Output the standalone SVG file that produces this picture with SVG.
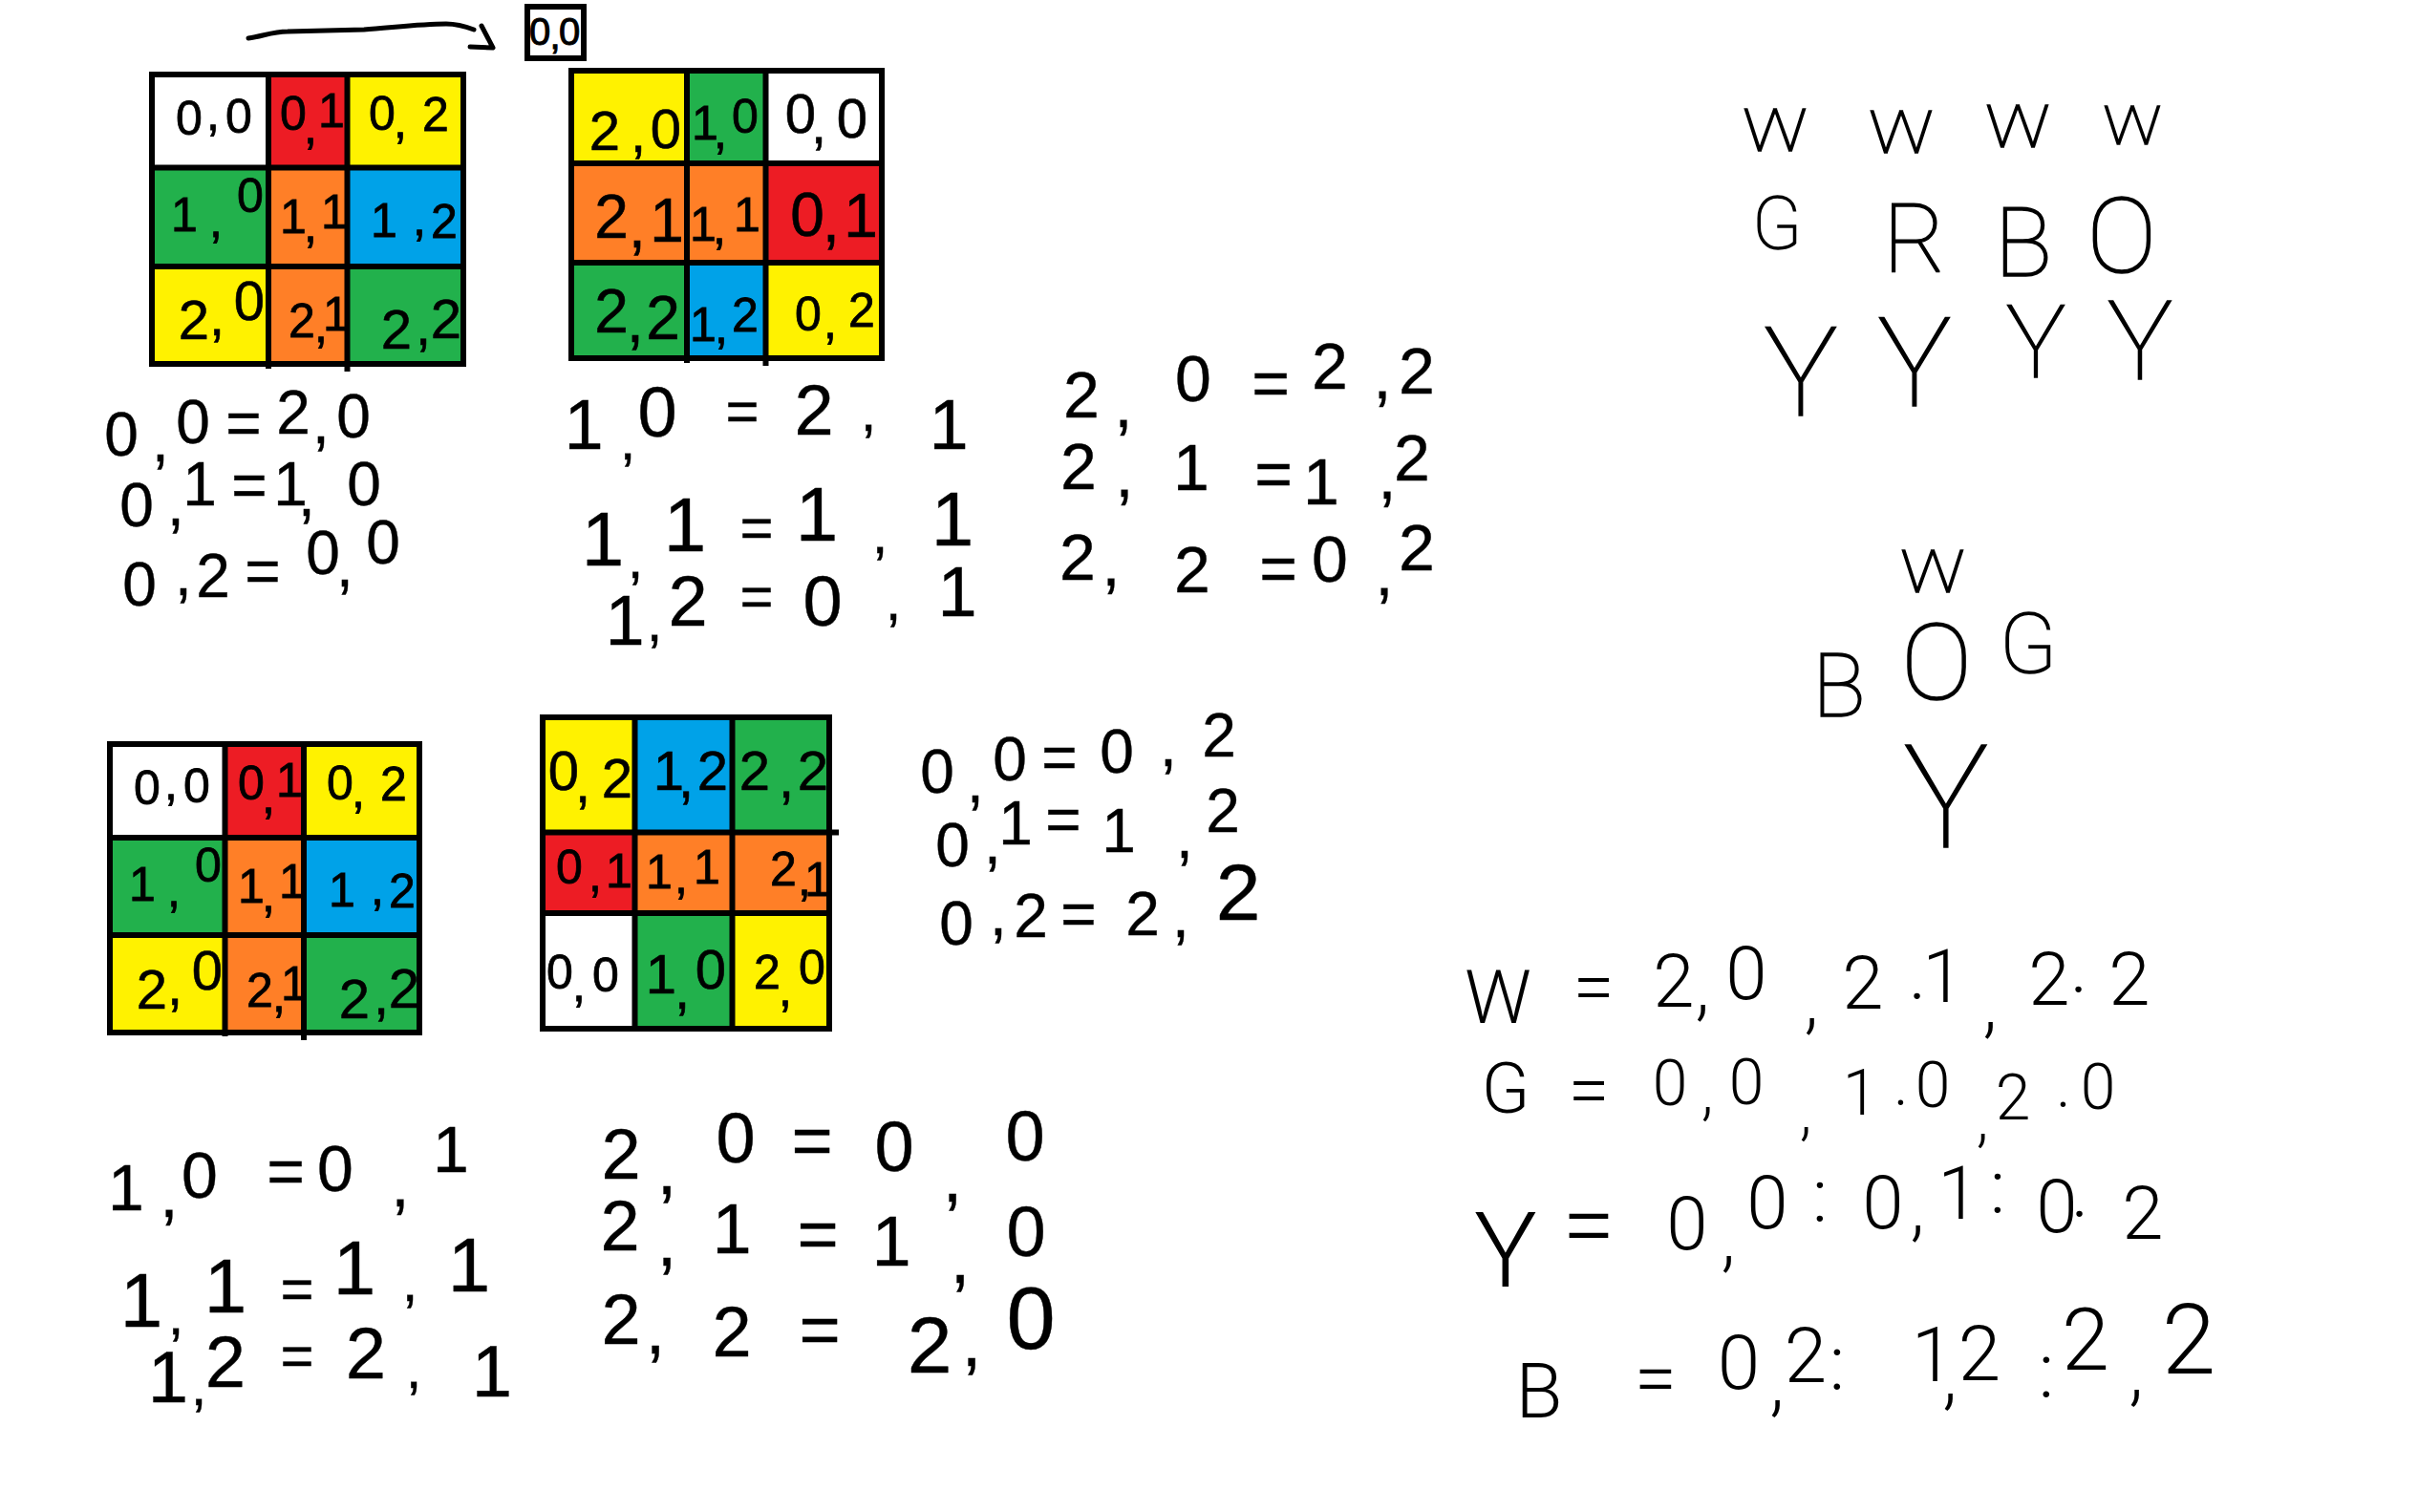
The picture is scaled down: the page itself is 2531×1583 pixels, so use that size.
<svg xmlns="http://www.w3.org/2000/svg" width="2531" height="1583" viewBox="0 0 2531 1583">
<style>
text{font-family:"Liberation Sans",Arial,sans-serif;text-anchor:middle;fill:#000}
.c{font-size:50px;stroke:#000;stroke-width:.8}
.d{font-size:58px;stroke:#000;stroke-width:.6}
.h text{stroke:#000;stroke-width:.4}
.s{font-size:60px}
.t text{font-family:Roboto,"Liberation Sans",sans-serif;font-weight:300}
.u text{font-family:Roboto,"Liberation Sans",sans-serif;font-weight:100;stroke:#000;stroke-width:1.5}
.g{fill:none;stroke:#000;stroke-width:6}
.w{fill:#fff}.r{fill:#ed1c24}.y{fill:#fff200}.n{fill:#22b14c}.o{fill:#ff7f27}.b{fill:#00a2e8}
</style>
<rect width="2531" height="1583" fill="#fff"/>
<g id="connectors">
<path d="M260 40C275 38 285 33 301 33L381 31C410 29 440 25 467 25C478 25 488 28 496 31M504 27L516 50L492 49" fill="none" stroke="#000" stroke-width="5" stroke-linecap="round" stroke-linejoin="round"/>
</g>
<g id="box-0-0">
<rect x="552" y="7" width="59" height="54" class="g w"/>
<text font-size="40" stroke="#000" stroke-width="1" x="565 581 596" y="47 51 47">0,0</text>
</g>
<g id="grid-1">
<rect x="159" y="78" width="122" height="97.500" class="w"/><rect x="281" y="78" width="82.500" height="97.500" class="r"/><rect x="363.500" y="78" width="121.500" height="97.500" class="y"/>
<rect x="159" y="175.500" width="122" height="103.500" class="n"/><rect x="281" y="175.500" width="82.500" height="103.500" class="o"/><rect x="363.500" y="175.500" width="121.500" height="103.500" class="b"/>
<rect x="159" y="279" width="122" height="102" class="y"/><rect x="281" y="279" width="82.500" height="102" class="o"/><rect x="363.500" y="279" width="121.500" height="102" class="n"/>
<path class="g" d="M159 78H485V381H159ZM281 78V386M363.500 78V389M159 175.500H485M159 279H485"/>
<text class="c" x="198 223 250" y="141 136 139">0,0</text>
<text class="c" x="307 325 347" y="136 150 133">0,1</text>
<text class="c" x="400 419 456" y="136 144 137">0,2</text>
<text class="c" x="193 226 262" y="242 248 222">1,0</text>
<text class="c" x="307 325 350" y="244 253 239">1,1</text>
<text class="c" x="402 439 465" y="248 246 249">1,2</text>
<text class="d" x="203 227 261" y="355 351 335">2,0</text>
<text class="c" x="316 336 352" y="353 358 346">2,1</text>
<text class="d" x="415 443 467" y="365 361 354">2,2</text>
</g>
<g id="grid-2">
<rect x="598" y="74" width="121" height="97" class="y"/><rect x="719" y="74" width="82.500" height="97" class="n"/><rect x="801.500" y="74" width="121.500" height="97" class="w"/>
<rect x="598" y="171" width="121" height="104" class="o"/><rect x="719" y="171" width="82.500" height="104" class="o"/><rect x="801.500" y="171" width="121.500" height="104" class="r"/>
<rect x="598" y="275" width="121" height="100" class="n"/><rect x="719" y="275" width="82.500" height="100" class="b"/><rect x="801.500" y="275" width="121.500" height="100" class="y"/>
<path class="g" d="M598 74H923V375H598ZM719 74V380M801.500 74V383M598 171H923M598 275H923"/>
<text class="d" x="633 668 697" y="157 159 155">2,0</text>
<text class="c" x="738 754 780" y="146 155 139">1,0</text>
<text class="d" x="838 857 892" y="139 150 144">0,0</text>
<text class="d" style="font-size:64px" x="640 667 698" y="249 259 253">2,1</text>
<text class="c" x="736 753 782" y="252 255 242">1,1</text>
<text class="d" style="font-size:64px" x="845 870 901" y="247 253 248">0,1</text>
<text class="d" style="font-size:64px" x="640 665 694" y="348 358 355">2,2</text>
<text class="c" x="736 755 780" y="357 359 347">1,2</text>
<text class="c" x="846 869 902" y="346 354 342">0,2</text>
</g>
<g id="grid-3">
<rect x="115" y="779" width="120.500" height="98" class="w"/><rect x="235.500" y="779" width="82.500" height="98" class="r"/><rect x="318" y="779" width="121" height="98" class="y"/>
<rect x="115" y="877" width="120.500" height="102" class="n"/><rect x="235.500" y="877" width="82.500" height="102" class="o"/><rect x="318" y="877" width="121" height="102" class="b"/>
<rect x="115" y="979" width="120.500" height="102" class="y"/><rect x="235.500" y="979" width="82.500" height="102" class="o"/><rect x="318" y="979" width="121" height="102" class="n"/>
<path class="g" d="M115 779H439V1081H115ZM235.500 779V1085M318 779V1089M115 877H439M115 979H439"/>
<text class="c" x="154 179 206" y="842 837 840">0,0</text>
<text class="c" x="263 281 303" y="837 851 834">0,1</text>
<text class="c" x="356 375 412" y="837 845 838">0,2</text>
<text class="c" x="149 182 218" y="943 949 923">1,0</text>
<text class="c" x="263 281 306" y="945 954 940">1,1</text>
<text class="c" x="358 395 421" y="949 947 950">1,2</text>
<text class="d" x="159 183 217" y="1056 1052 1036">2,0</text>
<text class="c" x="272 292 308" y="1054 1059 1047">2,1</text>
<text class="d" x="371 399 423" y="1066 1062 1055">2,2</text>
</g>
<g id="grid-4">
<rect x="568" y="751" width="96.500" height="120.500" class="y"/><rect x="664.500" y="751" width="102" height="120.500" class="b"/><rect x="766.500" y="751" width="101.500" height="120.500" class="n"/>
<rect x="568" y="871.500" width="96.500" height="84.500" class="r"/><rect x="664.500" y="871.500" width="102" height="84.500" class="o"/><rect x="766.500" y="871.500" width="101.500" height="84.500" class="o"/>
<rect x="568" y="956" width="96.500" height="121" class="w"/><rect x="664.500" y="956" width="102" height="121" class="n"/><rect x="766.500" y="956" width="101.500" height="121" class="y"/>
<path class="g" d="M568 751H868V1077H568ZM664.500 751V1077M766.500 751V1077M568 871.500H878M568 956H870"/>
<text class="d" x="590 610 646" y="827 840 835">0,2</text>
<text class="d" x="700 718 746" y="827 835 827">1,2</text>
<text class="d" x="790 823 851" y="827 835 827">2,2</text>
<text class="c" x="596 623 648" y="925 933 929">0,1</text>
<text class="c" x="690 713 740" y="930 935 925">1,1</text>
<text class="c" x="820 842 856" y="927 937 938">2,1</text>
<text class="c" x="586 606 634" y="1035 1048 1038">0,0</text>
<text class="d" x="692 714 744" y="1040 1056 1035">1,0</text>
<text class="c" x="803 822 850" y="1035 1053 1030">2,0</text>
</g>
<g id="equations-1" class="h" font-size="64">
<text x="127 168 202 255 307 336 370" y="477 483 464 465 454 464 458">0,0=2,0</text>
<text x="143 184 209 261 304 321 381" y="551 550 529 530 529 540 529">0,1=1,0</text>
<text x="146 192 223 275 338 361 401" y="634 623 625 620 601 614 590">0,2=0,0</text>
</g>
<g id="equations-2" class="h">
<text font-size="74" x="611 657 688 777 852 909 993" y="470 481 457 451 455 451 470">1<tspan class="s">,</tspan>0<tspan class="s">=</tspan>2<tspan class="s">,</tspan>1</text>
<text font-size="80" x="631 665 717 792 855 921 997" y="592 605 577 573 566 579 571">1<tspan class="s">,</tspan>1<tspan class="s">=</tspan>1<tspan class="s">,</tspan>1</text>
<text font-size="74" x="654 685 720 792 861 935 1002" y="675 671 655 645 655 649 645">1<tspan class="s">,</tspan>2<tspan class="s">=</tspan>0<tspan class="s">,</tspan>1</text>
</g>
<g id="equations-3" class="h" font-size="68">
<text x="1132 1176 1249 1330 1392 1447 1483" y="437 447 420 425 407 417 412">2,0=2,2</text>
<text x="1129 1177 1247 1333 1383 1452 1478" y="512 520 513 520 528 522 503">2,1=1,2</text>
<text x="1128 1163 1248 1338 1392 1449 1483" y="607 613 620 619 609 623 597">2,2=0,2</text>
</g>
<g id="equations-4" class="h" font-size="64">
<text x="981 1021 1057 1109 1169 1223 1276" y="830 840 817 815 809 802 792">0,0=0,2</text>
<text x="997 1039 1063 1113 1171 1240 1280" y="907 904 884 880 892 898 871">0,1=1,2</text>
<text x="1001 1045 1079 1129 1196 1236 1296" y="989 979 981 979 979 981 963">0,2=2,<tspan font-size="84">2</tspan></text>
</g>
<g id="equations-5" class="h">
<text font-size="68" x="132 177 209 299 351 419 472" y="1267 1274 1254 1250 1247 1263 1227">1,0=0,1</text>
<text font-size="80" x="148 184 236 311 371 429 491" y="1389 1397 1374 1370 1355 1362 1352">1<tspan class="s">,</tspan>1<tspan class="s">=</tspan>1<tspan class="s">,</tspan>1</text>
<text font-size="76" x="176 208 236 311 383 433 515" y="1468 1471 1452 1440 1443 1453 1462">1<tspan class="s">,</tspan>2<tspan class="s">=</tspan>2<tspan class="s">,</tspan>1</text>
</g>
<g id="equations-6" class="h" font-size="74">
<text x="650 698 770 850 936 997 1073" y="1234 1250 1217 1219 1226 1258 1215">2,0=0,0</text>
<text x="649 698 766 856 933 1005 1074" y="1309 1325 1312 1317 1325 1343 1315">2,1=1,0</text>
<text x="650 686 766 858 973 1017 1079" y="1407 1417 1420 1417 1437 1430 1412">2,2=<tspan font-size="84">2</tspan>,<tspan font-size="92">0</tspan></text>
</g>
<g id="face-letters" class="u">
<text font-size="62" transform="translate(1858 158) scale(1.2 1)">W</text>
<text font-size="62" transform="translate(1990 160) scale(1.2 1)">W</text>
<text font-size="62" transform="translate(2112 154) scale(1.2 1)">W</text>
<text font-size="56" transform="translate(2232 151) scale(1.2 1)">W</text>
<text font-size="76" x="1860" y="260">G</text>
<text font-size="100" x="2004" y="285">R</text>
<text font-size="100" x="2118" y="289">B</text>
<text font-size="110" x="2221" y="285">O</text>
<text font-size="130" x="1885" y="435">Y</text>
<text font-size="130" x="2004" y="425">Y</text>
<text font-size="105" x="2131" y="395">Y</text>
<text font-size="115" x="2240" y="397">Y</text>
</g>
<g id="cube-letters" class="u">
<text font-size="62" transform="translate(2023 620) scale(1.2 1)">W</text>
<text font-size="112" x="2027" y="732">O</text>
<text font-size="88" x="2123" y="704">G</text>
<text font-size="92" x="1925" y="750">B</text>
<text font-size="150" x="2037" y="887">Y</text>
</g>
<g id="colour-lists" class="t">
<text font-size="78" x="1568 1668 1752 1782 1828 1896 1950 2007 2034 2083 2145 2176 2229" y="1071 1060 1054 1059 1046 1073 1056 1046 1049 1077 1052 1039 1052">W=2,0,2.1,2.2</text>
<text font-size="66" x="1576 1663 1748 1787 1828 1890 1947 1990 2023 2075 2107 2160 2196" y="1165 1168 1157 1165 1156 1186 1167 1157 1159 1193 1172 1159 1161"><tspan font-size="74">G</tspan><tspan font-size="78">=</tspan>0,0,1.0,2.0</text>
<text font-size="78" x="1576 1663 1766 1809 1850 1905 1971 2007 2050 2091 2153 2177 2243" y="1347 1316 1308 1322 1286 1279 1286 1290 1276 1270 1290 1274 1297"><tspan font-size="110">Y</tspan><tspan font-size="100">=</tspan>0,0:0,1:0.2</text>
<text font-size="80" x="1611 1733 1820 1860 1890 1923 2023 2041 2072 2142 2183 2236 2291" y="1484 1470 1454 1473 1447 1455 1446 1466 1445 1463 1434 1462 1438">B=0,2:1,2:<tspan font-size="90">2</tspan>,<tspan font-size="102">2</tspan></text>
</g>
</svg>
